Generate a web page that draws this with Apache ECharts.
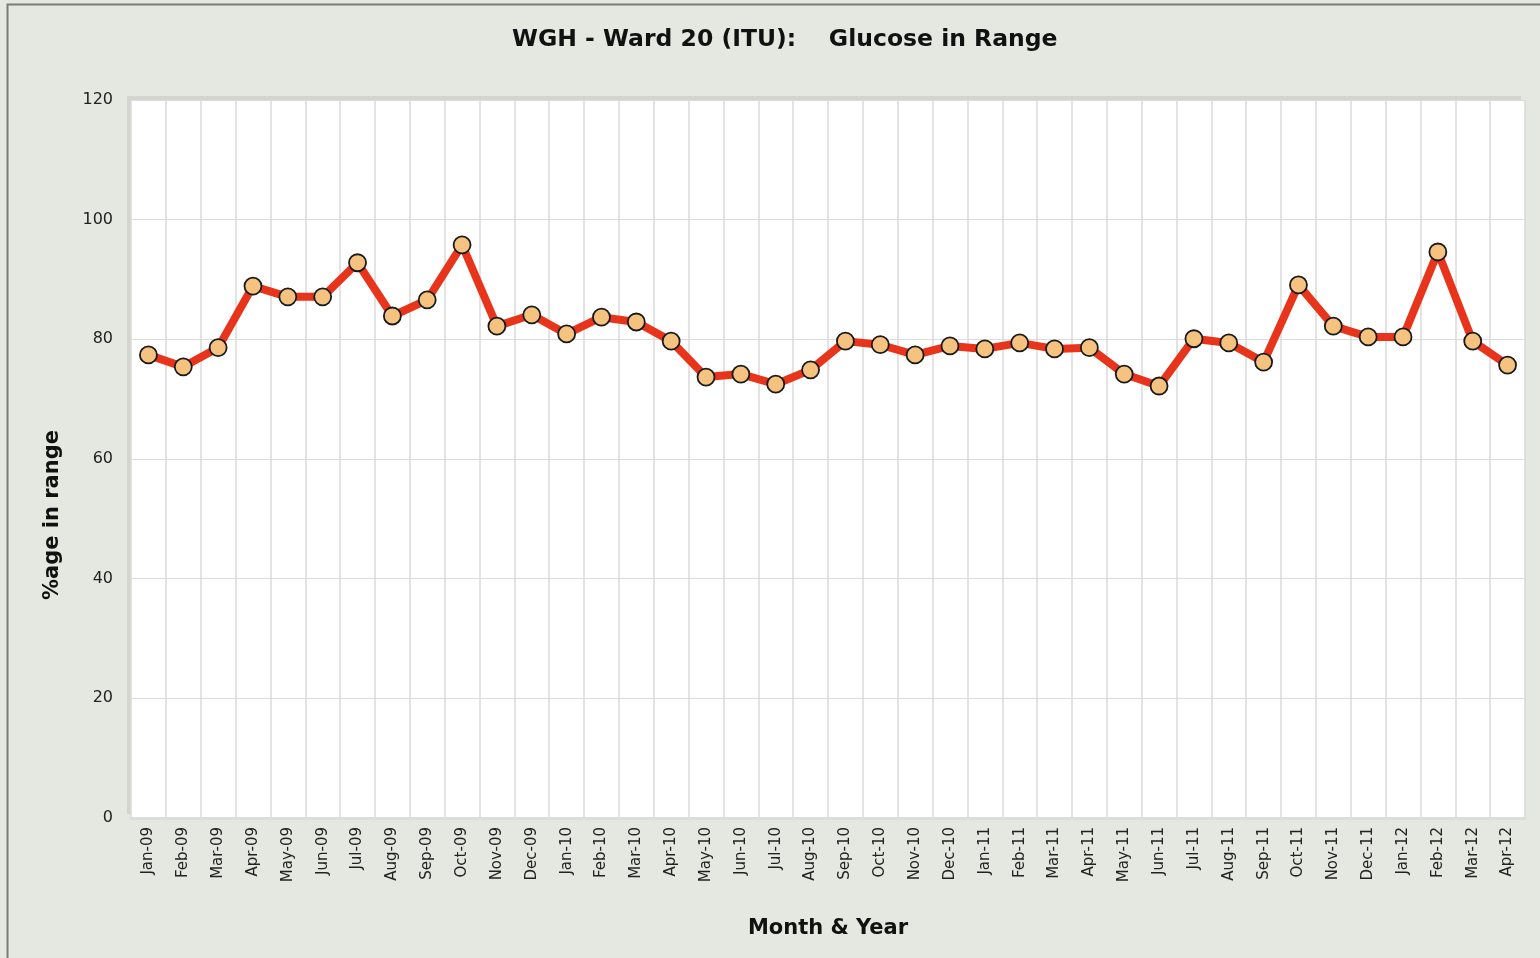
<!DOCTYPE html>
<html>
<head>
<meta charset="utf-8">
<script src="https://cdn.jsdelivr.net/npm/echarts@6/dist/echarts.min.js"></script>
<style>
  html, body { margin: 0; padding: 0; background: #e4e8e0; }
  #chart { width: 1540px; height: 958px; }
</style>
</head>
<body>
<div id="chart"></div>
<script>
// months on the x axis
const months = [
  'Jan-09', 'Feb-09', 'Mar-09', 'Apr-09', 'May-09', 'Jun-09', 'Jul-09', 'Aug-09', 'Sep-09', 'Oct-09', 'Nov-09', 'Dec-09',
  'Jan-10', 'Feb-10', 'Mar-10', 'Apr-10', 'May-10', 'Jun-10', 'Jul-10', 'Aug-10', 'Sep-10', 'Oct-10', 'Nov-10', 'Dec-10',
  'Jan-11', 'Feb-11', 'Mar-11', 'Apr-11', 'May-11', 'Jun-11', 'Jul-11', 'Aug-11', 'Sep-11', 'Oct-11', 'Nov-11', 'Dec-11',
  'Jan-12', 'Feb-12', 'Mar-12', 'Apr-12'
]

// % of readings in range
const inRange = [
  77.4, 75.4, 78.6, 88.9, 87.1, 87.1, 92.8, 83.9, 86.6, 95.8, 82.2, 84.1,
  80.9, 83.7, 82.9, 79.7, 73.7, 74.2, 72.5, 74.9, 79.7, 79.1, 77.4, 78.9,
  78.4, 79.4, 78.4, 78.6, 74.2, 72.2, 80.1, 79.4, 76.2, 89.1, 82.2, 80.4,
  80.4, 94.6, 79.7, 75.7
]

const chart = echarts.init(document.getElementById('chart'))
chart.setOption({
  backgroundColor: '#e4e8e0',
  animation: false,
  title: {
    text: 'WGH - Ward 20 (ITU):    Glucose in Range',
    left: 507,
    top: 23,
    textStyle: { fontFamily: 'DejaVu Sans', fontSize: 23.5, fontWeight: 'bold', color: '#111' }
  },
  graphic: [
    {
      type: 'rect',
      shape: { x: 7.5, y: 4.5, width: 1560, height: 980 },
      style: { fill: 'none', stroke: '#7a7a7a', lineWidth: 2 },
      silent: true
    },
    {
      type: 'text',
      left: 42,
      top: 430,
      rotation: Math.PI / 2,
      style: {
        text: '%age in range',
        font: 'bold 21px "DejaVu Sans"',
        fill: '#111'
      }
    }
  ],
  grid: {
    left: 131,
    right: 15,
    top: 100,
    bottom: 140,
    show: true,
    backgroundColor: '#ffffff',
    borderWidth: 0,
    shadowColor: '#d3d6cf',
    shadowBlur: 0,
    shadowOffsetX: -4,
    shadowOffsetY: -4
  },
  xAxis: {
    type: 'category',
    data: months,
    boundaryGap: true,
    name: 'Month & Year',
    nameLocation: 'middle',
    nameGap: 100,
    nameTextStyle: { fontFamily: 'DejaVu Sans', fontSize: 21, fontWeight: 'bold', color: '#111' },
    axisLine: { show: true, lineStyle: { color: '#dcdcdc', width: 3 } },
    axisTick: { show: false },
    axisLabel: {
      rotate: 90,
      interval: 0,
      margin: 9,
      fontFamily: 'DejaVu Sans',
      fontSize: 15,
      color: '#222'
    },
    splitLine: { show: true, interval: 0, lineStyle: { color: '#dadada', width: 1.5 } }
  },
  yAxis: {
    type: 'value',
    min: 0,
    max: 120,
    interval: 20,
    axisLine: { show: false },
    axisTick: { show: false },
    axisLabel: { fontFamily: 'DejaVu Sans', fontSize: 16, color: '#222', margin: 18 },
    splitLine: { lineStyle: { color: '#dcdcdc', width: 1 } }
  },
  series: [{
    type: 'line',
    data: inRange,
    symbol: 'circle',
    symbolSize: 17,
    lineStyle: { color: '#e8341a', width: 8 },
    itemStyle: { color: '#f6c27f', borderColor: '#1a1a1a', borderWidth: 1.8 }
  }]
})
</script>
</body>
</html>
